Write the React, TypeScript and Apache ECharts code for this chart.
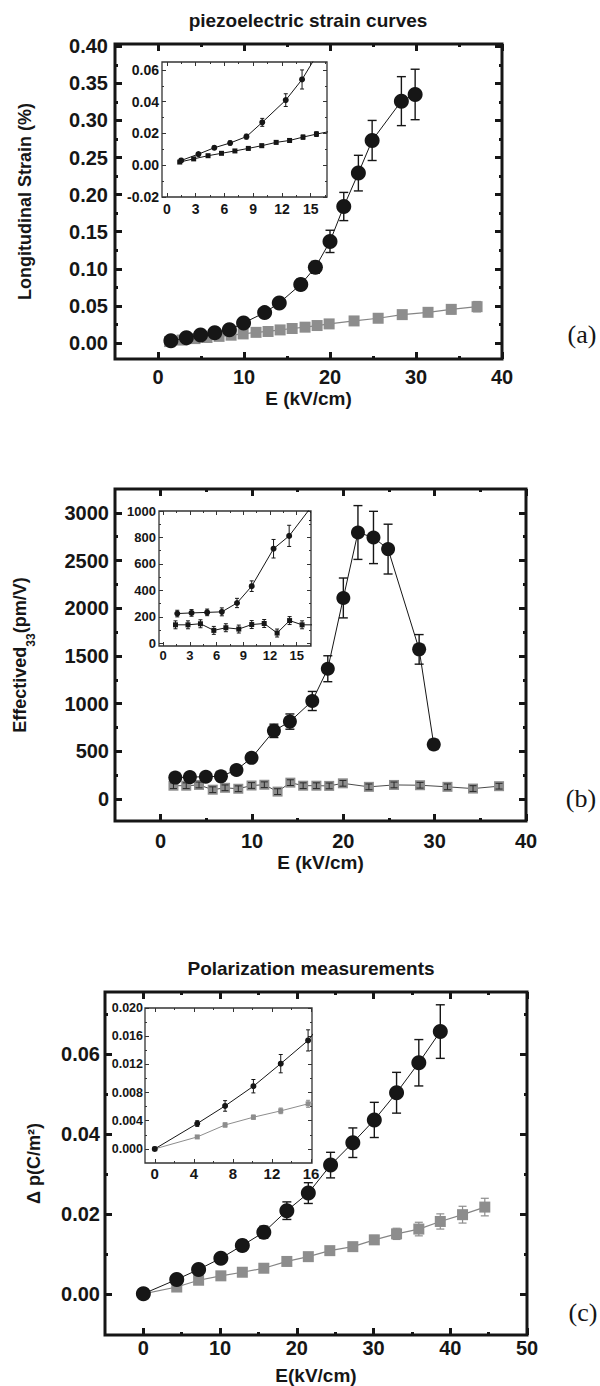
import React, { useEffect, useRef } from "react";
import * as echarts from "echarts";

const SANS = "'Liberation Sans', Arial, Helvetica, sans-serif";
const SERIF = "'Liberation Serif', 'Times New Roman', serif";
const INK = "#161616";
const GREY = "#8d8d8d";
const GREY_LINE = "#858585";

// ---------- Panel (a): longitudinal strain (%) vs E (kV/cm)
const strainCircleE = [1.5, 3.3, 4.95, 6.6, 8.3, 9.95, 12.4, 14.1, 16.6, 18.3, 20.0, 21.6, 23.3, 24.9, 28.3, 29.9];
const strainCircle = [0.003, 0.007, 0.011, 0.014, 0.018, 0.027, 0.041, 0.054, 0.079, 0.102, 0.137, 0.184, 0.229, 0.273, 0.326, 0.335];
const strainCircleErr = [0.001, 0.001, 0.0012, 0.0013, 0.0015, 0.0025, 0.004, 0.006, 0.007, 0.008, 0.015, 0.019, 0.024, 0.027, 0.033, 0.034];
const strainSquareE = [1.35, 2.8, 4.3, 5.7, 7.1, 8.5, 9.9, 11.4, 12.8, 14.2, 15.6, 17.1, 18.5, 19.9, 22.8, 25.6, 28.4, 31.4, 34.1, 37.1];
const strainSquare = [0.002, 0.004, 0.006, 0.0075, 0.009, 0.0106, 0.0123, 0.0144, 0.0156, 0.0177, 0.0196, 0.0214, 0.0236, 0.0258, 0.0298, 0.0334, 0.0383, 0.0414, 0.0454, 0.049];
const strainSquareErr = [0.0005, 0.0006, 0.0006, 0.0007, 0.0008, 0.0009, 0.001, 0.001, 0.0012, 0.0013, 0.0015, 0.0015, 0.0016, 0.0017, 0.002, 0.003, 0.004, 0.005, 0.006, 0.007];

// ---------- Panel (b): effective d33 (pm/V) vs E (kV/cm)
const d33CircleE = [1.6, 3.2, 4.95, 6.6, 8.3, 9.95, 12.4, 14.15, 16.6, 18.3, 20.0, 21.6, 23.3, 24.9, 28.3, 29.9];
const d33Circle = [225, 230, 234, 238, 305, 432, 715, 812, 1028, 1366, 2108, 2794, 2742, 2620, 1569, 572];
const d33CircleErr = [25, 25, 25, 30, 35, 40, 70, 80, 100, 136, 209, 282, 274, 261, 155, 52];
const d33SquareE = [1.4, 2.8, 4.2, 5.7, 7.05, 8.5, 9.95, 11.35, 12.8, 14.2, 15.6, 17.05, 18.45, 19.95, 22.8, 25.55, 28.4, 31.4, 34.2, 37.05];
const d33Square = [140, 140, 148, 98, 118, 108, 142, 150, 78, 172, 140, 140, 138, 165, 128, 148, 145, 128, 110, 135];
const d33SquareErr = [30, 30, 30, 30, 30, 30, 30, 30, 30, 30, 30, 30, 30, 30, 30, 30, 30, 30, 30, 30];

// ---------- Panel (c): polarization change (C/m^2) vs E (kV/cm)
const polCircleE = [0, 4.35, 7.2, 10.1, 12.9, 15.7, 18.7, 21.5, 24.4, 27.3, 30.1, 33.0, 35.9, 38.7];
const polCircle = [0, 0.0036, 0.0061, 0.0089, 0.0121, 0.0154, 0.0208, 0.0252, 0.0322, 0.0378, 0.0435, 0.0503, 0.0578, 0.0656];
const polCircleErr = [0.0001, 0.0004, 0.00075, 0.00095, 0.0013, 0.0015, 0.0022, 0.0026, 0.0032, 0.0037, 0.0044, 0.0051, 0.0058, 0.0067];
const polSquareE = [0, 4.35, 7.2, 10.1, 12.9, 15.7, 18.7, 21.5, 24.3, 27.3, 30.1, 33.0, 35.9, 38.7, 41.6, 44.5];
const polSquare = [0, 0.0017, 0.0034, 0.0045, 0.0054, 0.0064, 0.0081, 0.0093, 0.0108, 0.0118, 0.0135, 0.015, 0.0162, 0.0181, 0.0198, 0.0217];
const polSquareErr = [0.0001, 0.0002, 0.0003, 0.0003, 0.0004, 0.0005, 0.0006, 0.0007, 0.0008, 0.0009, 0.0011, 0.0014, 0.0017, 0.0019, 0.0021, 0.0022];

// ---------- Tick values
const eTicks40 = [0, 10, 20, 30, 40];
const eMinor40 = [5, 15, 25, 35];
const eTicks50 = [0, 10, 20, 30, 40, 50];
const eMinor50 = [5, 15, 25, 35, 45];
const insetETicks15 = [0, 3, 6, 9, 12, 15];
const insetEMinor15 = [1.5, 4.5, 7.5, 10.5, 13.5, 16.5];
const insetETicks16 = [0, 4, 8, 12, 16];
const insetEMinor16 = [2, 6, 10, 14];
const strainTicks = [0, 0.05, 0.1, 0.15, 0.2, 0.25, 0.3, 0.35, 0.4];
const strainMinor = [0.025, 0.075, 0.125, 0.175, 0.225, 0.275, 0.325, 0.375];
const strainInsetTicks = [-0.02, 0, 0.02, 0.04, 0.06];
const strainInsetMinor = [-0.01, 0.01, 0.03, 0.05];
const d33Ticks = [0, 500, 1000, 1500, 2000, 2500, 3000];
const d33Minor = [250, 750, 1250, 1750, 2250, 2750];
const d33InsetTicks = [0, 200, 400, 600, 800, 1000];
const d33InsetMinor = [100, 300, 500, 700, 900];
const polTicks = [0, 0.02, 0.04, 0.06];
const polMinor = [0.01, 0.03, 0.05, 0.07];
const polInsetTicks = [0, 0.004, 0.008, 0.012, 0.016, 0.02];
const polInsetMinor = [0.002, 0.006, 0.01, 0.014, 0.018];

const panelTitles = ["piezoelectric strain curves", "Polarization measurements"];
const panelLetters = ["(a)", "(b)", "(c)"];

type AxisSpec = {
  min: number;
  max: number;
  major: number[];
  minor: number[];
  fmt: (v: number) => string;
  size: number;
  margin: number;
  tickLen: number;
  minorLen: number;
  tickWidth: number;
  color: string;
  name?: any;
};

function makeAxes(grid: number, dim: "x" | "y", s: AxisSpec) {
  const sides = dim === "x" ? ["bottom", "top"] : ["left", "right"];
  const out: any[] = [];
  sides.forEach((pos, i) => {
    const base = {
      type: "value",
      gridIndex: grid,
      position: pos,
      min: s.min,
      max: s.max,
      axisLine: { show: false, onZero: false },
      splitLine: { show: false },
      minorTick: { show: false },
      minorSplitLine: { show: false },
      axisPointer: { show: false },
      silent: true,
    };
    out.push({
      ...base,
      axisTick: {
        show: true,
        inside: true,
        length: s.tickLen,
        customValues: s.major,
        lineStyle: { color: s.color, width: s.tickWidth },
      },
      axisLabel:
        i === 0
          ? {
              show: true,
              customValues: s.major,
              formatter: (v: number) => s.fmt(v),
              margin: s.margin,
              fontSize: s.size,
              fontWeight: "bold",
              fontFamily: SANS,
              color: INK,
            }
          : { show: false },
      ...(i === 0 && s.name ? s.name : {}),
    });
    out.push({
      ...base,
      axisTick: {
        show: true,
        inside: true,
        length: s.minorLen,
        customValues: s.minor,
        lineStyle: { color: s.color, width: s.tickWidth },
      },
      axisLabel: { show: false },
    });
  });
  return out;
}

function errorBars(xs: number[], ys: number[], es: number[], xi: number, yi: number, color: string, cap: number, width: number, z: number) {
  return {
    type: "custom",
    xAxisIndex: xi,
    yAxisIndex: yi,
    z,
    clip: true,
    silent: true,
    data: xs.map((x, i) => [x, ys[i], es[i]]),
    encode: { x: 0, y: 1 },
    renderItem: (params: any, api: any) => {
      const x = api.value(0);
      const y = api.value(1);
      const e = api.value(2);
      const top = api.coord([x, y + e]);
      const bot = api.coord([x, y - e]);
      const st = { stroke: color, lineWidth: width, fill: "none" };
      return {
        type: "group",
        children: [
          { type: "line", shape: { x1: top[0], y1: top[1], x2: bot[0], y2: bot[1] }, style: st },
          { type: "line", shape: { x1: top[0] - cap, y1: top[1], x2: top[0] + cap, y2: top[1] }, style: st },
          { type: "line", shape: { x1: bot[0] - cap, y1: bot[1], x2: bot[0] + cap, y2: bot[1] }, style: st },
        ],
      };
    },
  };
}

function curve(xs: number[], ys: number[], xi: number, yi: number, o: { symbol: string; size: number; fill: string; line: string; lw: number; z: number }) {
  return {
    type: "line",
    xAxisIndex: xi,
    yAxisIndex: yi,
    z: o.z,
    data: xs.map((x, i) => [x, ys[i]]),
    symbol: o.symbol,
    symbolSize: o.size,
    showSymbol: true,
    showAllSymbol: true,
    clip: true,
    silent: true,
    itemStyle: { color: o.fill, borderWidth: 0 },
    lineStyle: { color: o.line, width: o.lw },
    emphasis: { disabled: true },
  };
}

const nameStyle = { fontSize: 18, fontWeight: "bold", fontFamily: SANS, color: INK };
const xNameStyle = { fontSize: 19, fontWeight: "bold", fontFamily: SANS, color: INK };

function buildOption() {
  const grids: any[] = [];
  const xAxes: any[] = [];
  const yAxes: any[] = [];
  const series: any[] = [];

  function addGrid(rect: number[], frame: { width: number; color: string; bg: string }, xs: AxisSpec, ys: AxisSpec) {
    const gi = grids.length;
    grids.push({
      show: true,
      left: rect[0],
      top: rect[1],
      width: rect[2],
      height: rect[3],
      borderWidth: frame.width,
      borderColor: frame.color,
      backgroundColor: frame.bg,
      containLabel: false,
      outerBoundsMode: "none",
    });
    const xi = xAxes.length;
    xAxes.push(...makeAxes(gi, "x", xs));
    const yi = yAxes.length;
    yAxes.push(...makeAxes(gi, "y", ys));
    return { xi, yi };
  }

  const mainTick = { tickLen: 7, minorLen: 3, tickWidth: 3, color: INK };
  const insetTick = { tickLen: 4, minorLen: 2, tickWidth: 1, color: "#333" };
  const mainFrame = { width: 3, color: INK, bg: "transparent" };
  const insetFrame = { width: 1.3, color: "#333", bg: "#ffffff" };
  const f0 = (v: number) => String(v);
  const f2 = (v: number) => v.toFixed(2);
  const f3 = (v: number) => v.toFixed(3);

  // ---------- (a) main
  const a = addGrid(
    [115, 44, 387, 315],
    mainFrame,
    { min: -5, max: 40, major: eTicks40, minor: eMinor40, fmt: f0, size: 20, margin: 8, ...mainTick,
      name: { name: "E (kV/cm)", nameLocation: "middle", nameGap: 30, nameTextStyle: xNameStyle } },
    { min: -0.0215, max: 0.403, major: strainTicks, minor: strainMinor, fmt: f2, size: 20, margin: 7, ...mainTick,
      name: { name: "Longitudinal Strain (%)", nameLocation: "middle", nameGap: 81, nameRotate: 90, nameTextStyle: nameStyle } }
  );
  series.push(errorBars(strainSquareE, strainSquare, strainSquareErr, a.xi, a.yi, GREY, 4, 1.2, 2));
  series.push(errorBars(strainCircleE, strainCircle, strainCircleErr, a.xi, a.yi, INK, 4.5, 1.4, 3));
  series.push(curve(strainSquareE, strainSquare, a.xi, a.yi, { symbol: "rect", size: 11, fill: GREY, line: GREY_LINE, lw: 1.2, z: 4 }));
  series.push(curve(strainCircleE, strainCircle, a.xi, a.yi, { symbol: "circle", size: 15, fill: INK, line: INK, lw: 1, z: 5 }));

  // ---------- (a) inset
  const ai = addGrid(
    [162, 62, 165, 135],
    insetFrame,
    { min: -0.5, max: 16.7, major: insetETicks15, minor: insetEMinor15, fmt: f0, size: 14, margin: 5, ...insetTick },
    { min: -0.02, max: 0.065, major: strainInsetTicks, minor: strainInsetMinor, fmt: f2, size: 14, margin: 3, ...insetTick }
  );
  series.push(errorBars(strainSquareE, strainSquare, strainSquareErr, ai.xi, ai.yi, INK, 2, 1, 6));
  series.push(errorBars(strainCircleE, strainCircle, strainCircleErr, ai.xi, ai.yi, INK, 2, 1, 6));
  series.push(curve(strainSquareE, strainSquare, ai.xi, ai.yi, { symbol: "rect", size: 5, fill: INK, line: INK, lw: 1, z: 7 }));
  series.push(curve(strainCircleE, strainCircle, ai.xi, ai.yi, { symbol: "circle", size: 6, fill: INK, line: INK, lw: 1, z: 7 }));

  // ---------- (b) main
  const b = addGrid(
    [115, 489, 411, 332],
    mainFrame,
    { min: -5, max: 40, major: eTicks40, minor: eMinor40, fmt: f0, size: 20, margin: 10, ...mainTick,
      name: { name: "E (kV/cm)", nameLocation: "middle", nameGap: 32, nameTextStyle: xNameStyle } },
    { min: -230, max: 3250, major: d33Ticks, minor: d33Minor, fmt: f0, size: 20, margin: 6, ...mainTick,
      name: {
        name: "{a|Effectived}{s|33}{a|(pm/V)}",
        nameLocation: "middle",
        nameGap: 78,
        nameRotate: 90,
        nameTextStyle: {
          ...nameStyle,
          rich: {
            a: { fontSize: 18, fontWeight: "bold", fontFamily: SANS, color: INK, lineHeight: 26, verticalAlign: "top" },
            s: { fontSize: 12, fontWeight: "bold", fontFamily: SANS, color: INK, lineHeight: 14, verticalAlign: "bottom" },
          },
        },
      } }
  );
  series.push(curve(d33SquareE, d33Square, b.xi, b.yi, { symbol: "rect", size: 10, fill: GREY, line: "#4a4a4a", lw: 1, z: 2 }));
  series.push(errorBars(d33SquareE, d33Square, d33SquareErr, b.xi, b.yi, "#2a2a2a", 3.5, 1, 3));
  series.push(errorBars(d33CircleE, d33Circle, d33CircleErr, b.xi, b.yi, INK, 4.5, 1.4, 3));
  series.push(curve(d33CircleE, d33Circle, b.xi, b.yi, { symbol: "circle", size: 14, fill: INK, line: INK, lw: 1, z: 5 }));

  // ---------- (b) inset
  const bi = addGrid(
    [159, 511, 152, 135],
    insetFrame,
    { min: -0.45, max: 16.6, major: insetETicks15, minor: insetEMinor15, fmt: f0, size: 13, margin: 3, ...insetTick },
    { min: -20, max: 1000, major: d33InsetTicks, minor: d33InsetMinor, fmt: f0, size: 13, margin: 3, ...insetTick }
  );
  series.push(errorBars(d33SquareE, d33Square, d33SquareErr, bi.xi, bi.yi, INK, 2, 1, 6));
  series.push(errorBars(d33CircleE, d33Circle, d33CircleErr, bi.xi, bi.yi, INK, 2, 1, 6));
  series.push(curve(d33SquareE, d33Square, bi.xi, bi.yi, { symbol: "rect", size: 5, fill: INK, line: INK, lw: 1, z: 7 }));
  series.push(curve(d33CircleE, d33Circle, bi.xi, bi.yi, { symbol: "circle", size: 6, fill: INK, line: INK, lw: 1, z: 7 }));

  // ---------- (c) main
  const c = addGrid(
    [105, 992, 422, 343],
    mainFrame,
    { min: -5, max: 50, major: eTicks50, minor: eMinor50, fmt: f0, size: 20, margin: 3, ...mainTick,
      name: { name: "E(kV/cm)", nameLocation: "middle", nameGap: 31, nameTextStyle: xNameStyle } },
    { min: -0.0103, max: 0.0755, major: polTicks, minor: polMinor, fmt: f2, size: 20, margin: 5, ...mainTick,
      name: { name: "Δ p(C/m²)", nameLocation: "middle", nameGap: 62, nameRotate: 90, nameTextStyle: nameStyle } }
  );
  series.push(errorBars(polSquareE, polSquare, polSquareErr, c.xi, c.yi, GREY, 4, 1.2, 2));
  series.push(errorBars(polCircleE, polCircle, polCircleErr, c.xi, c.yi, INK, 4.5, 1.4, 3));
  series.push(curve(polSquareE, polSquare, c.xi, c.yi, { symbol: "rect", size: 11, fill: GREY, line: GREY_LINE, lw: 1.2, z: 4 }));
  series.push(curve(polCircleE, polCircle, c.xi, c.yi, { symbol: "circle", size: 15, fill: INK, line: INK, lw: 1, z: 5 }));

  // ---------- (c) inset
  const ci = addGrid(
    [145, 1008, 167, 155],
    insetFrame,
    { min: -1, max: 16.1, major: insetETicks16, minor: insetEMinor16, fmt: f0, size: 15, margin: 3, ...insetTick },
    { min: -0.002, max: 0.02, major: polInsetTicks, minor: polInsetMinor, fmt: f3, size: 12.5, margin: 2, ...insetTick }
  );
  series.push(errorBars(polSquareE, polSquare, polSquareErr, ci.xi, ci.yi, GREY, 2, 1, 6));
  series.push(errorBars(polCircleE, polCircle, polCircleErr, ci.xi, ci.yi, INK, 2, 1, 6));
  series.push(curve(polSquareE, polSquare, ci.xi, ci.yi, { symbol: "rect", size: 5, fill: GREY, line: GREY, lw: 1, z: 7 }));
  series.push(curve(polCircleE, polCircle, ci.xi, ci.yi, { symbol: "circle", size: 6, fill: INK, line: INK, lw: 1, z: 7 }));

  const titleStyle = { fontSize: 19, fontWeight: "bold", fontFamily: SANS, fill: INK, align: "center", verticalAlign: "middle" };
  const letterStyle = { fontSize: 26, fontFamily: SERIF, fill: INK, align: "center", verticalAlign: "middle" };

  return {
    animation: false,
    backgroundColor: "#ffffff",
    grid: grids,
    xAxis: xAxes,
    yAxis: yAxes,
    series,
    graphic: [
      { type: "text", x: 308, y: 20, silent: true, style: { text: panelTitles[0], ...titleStyle } },
      { type: "text", x: 311, y: 968, silent: true, style: { text: panelTitles[1], ...titleStyle } },
      { type: "text", x: 582, y: 334, silent: true, style: { text: panelLetters[0], ...letterStyle } },
      { type: "text", x: 581, y: 798, silent: true, style: { text: panelLetters[1], ...letterStyle } },
      { type: "text", x: 583, y: 1312, silent: true, style: { text: panelLetters[2], ...letterStyle } },
    ],
  };
}

export default function App() {
  const ref = useRef<HTMLDivElement>(null);
  useEffect(() => {
    if (!ref.current) return;
    const chart = echarts.init(ref.current, null, { renderer: "svg" });
    chart.setOption(buildOption() as any);
    return () => chart.dispose();
  }, []);
  return <div ref={ref} style={{ position: "absolute", left: 0, top: 0, width: 600, height: 1386 }} />;
}
